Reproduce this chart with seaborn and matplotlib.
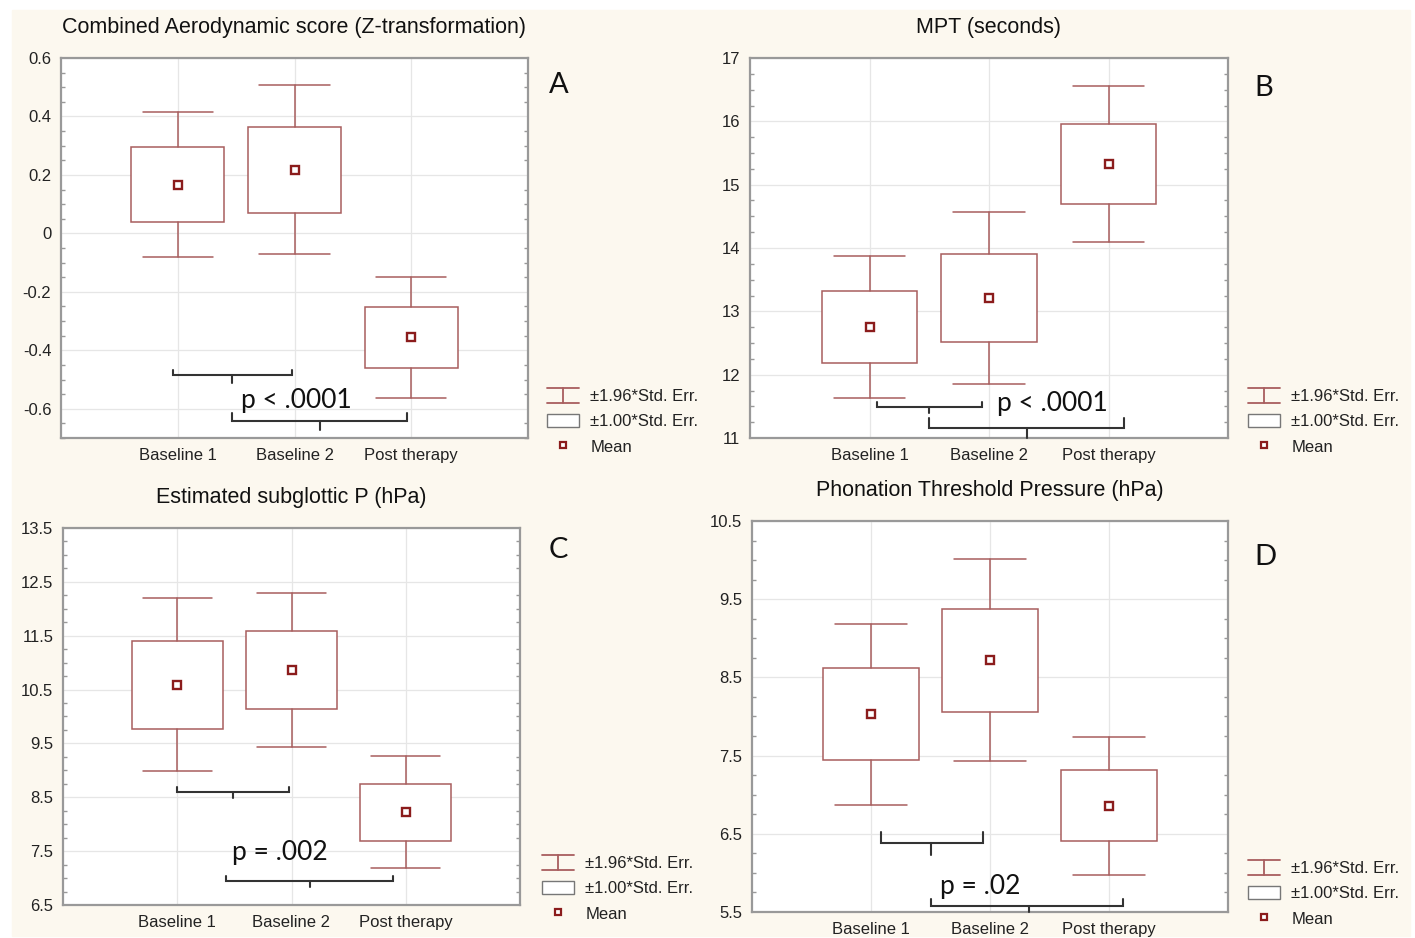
import matplotlib
matplotlib.use("Agg")
import matplotlib.pyplot as plt
import seaborn as sns
from matplotlib.lines import Line2D
from matplotlib.patches import Patch, Rectangle
from matplotlib.legend_handler import HandlerBase
from matplotlib.ticker import AutoMinorLocator

# ---- data (means and standard errors) ----
groups = ['Baseline 1', 'Baseline 2', 'Post therapy']

aero_mean = [0.167, 0.218, -0.356]
aero_se = [0.127, 0.147, 0.105]
mpt_mean = [12.75, 13.21, 15.33]
mpt_se = [0.57, 0.69, 0.63]
psub_mean = [10.59, 10.86, 8.22]
psub_se = [0.82, 0.73, 0.53]
ptp_mean = [8.03, 8.72, 6.86]
ptp_se = [0.59, 0.66, 0.45]

titles = ['Combined Aerodynamic score (Z-transformation)', 'MPT (seconds)',
          'Estimated subglottic P (hPa)', 'Phonation Threshold Pressure (hPa)']
letters = ['A', 'B', 'C', 'D']
p_labels = ['p < .0001', 'p < .0001', 'p = .002', 'p = .02']

aero_ticks = [-0.6, -0.4, -0.2, 0, 0.2, 0.4, 0.6]
mpt_ticks = [11, 12, 13, 14, 15, 16, 17]
psub_ticks = [6.5, 7.5, 8.5, 9.5, 10.5, 11.5, 12.5, 13.5]
ptp_ticks = [5.5, 6.5, 7.5, 8.5, 9.5, 10.5]

# ---- style ----
W, H = 1415, 938
box_col = '#a85e5e'
mean_col = '#8b1c1c'
bg_col = '#fcf8ef'

sns.set_theme(style='whitegrid')
plt.rcParams['font.family'] = ['Liberation Sans', 'DejaVu Sans']
plt.rcParams['axes.unicode_minus'] = False


class WhiskerHandler(HandlerBase):
    def create_artists(self, legend, orig_handle, xdescent, ydescent,
                       width, height, fontsize, trans):
        x0, x1 = -xdescent, -xdescent + width
        y0, y1 = -ydescent - 1, -ydescent + height + 1
        xm = (x0 + x1) / 2
        out = []
        for xs, ys in [([x0, x1], [y0, y0]), ([x0, x1], [y1, y1]), ([xm, xm], [y0, y1])]:
            ln = Line2D(xs, ys, color=orig_handle.get_color(), lw=1.3)
            ln.set_transform(trans)
            out.append(ln)
        return out


def px_rect(l, t, r, b):
    return [l / W, 1 - b / H, (r - l) / W, (b - t) / H]


fig = plt.figure(figsize=(W / 100, H / 100), dpi=100, facecolor='white')
fig.patches.append(Rectangle((12 / W, 2 / H), 1398 / W, 926 / H,
                             transform=fig.transFigure, color=bg_col, zorder=-10))

panels = [
    dict(mean=aero_mean, se=aero_se, ticks=aero_ticks, ylim=(-0.7, 0.6),
         rect=(61, 58, 528, 438), letter_xy=(559, 85), leg_xy=(547, 389),
         brackets=[(-0.04, 0.98, 0.465, -0.485, -0.467, -0.512),
                   (0.465, 1.96, 1.22, -0.642, -0.614, -0.673)],
         p_xy=(1.02, -0.573)),
    dict(mean=mpt_mean, se=mpt_se, ticks=mpt_ticks, ylim=(11, 17),
         rect=(750, 58, 1228, 438), letter_xy=(1264, 88), leg_xy=(1248, 389),
         brackets=[(0.06, 0.94, 0.50, 11.49, 11.57, 11.39),
                   (0.50, 2.13, 1.32, 11.16, 11.32, 11.0)],
         p_xy=(1.53, 11.55)),
    dict(mean=psub_mean, se=psub_se, ticks=psub_ticks, ylim=(6.5, 13.5),
         rect=(63, 528, 520, 905), letter_xy=(558, 550), leg_xy=(542, 856),
         brackets=[(0.0, 0.98, 0.49, 8.60, 8.69, 8.49),
                   (0.43, 1.89, 1.16, 6.95, 7.04, 6.83)],
         p_xy=(0.90, 7.48)),
    dict(mean=ptp_mean, se=ptp_se, ticks=ptp_ticks, ylim=(5.5, 10.5),
         rect=(752, 521, 1228, 912), letter_xy=(1265, 557), leg_xy=(1248, 861),
         brackets=[(0.08, 0.94, 0.50, 6.38, 6.52, 6.23),
                   (0.50, 2.12, 1.33, 5.58, 5.66, 5.5)],
         p_xy=(0.92, 5.82)),
]

for i, p in enumerate(panels):
    ax = fig.add_axes(px_rect(*p['rect']))
    ax.set_facecolor('white')

    # boxes = mean +/- 1 SE, whiskers = mean +/- 1.96 SE
    stats = []
    for g, m, s in zip(groups, p['mean'], p['se']):
        stats.append(dict(label=g, med=m, q1=m - s, q3=m + s,
                          whislo=m - 1.96 * s, whishi=m + 1.96 * s))
    ax.bxp(stats, positions=[0, 1, 2], widths=0.8, capwidths=0.6,
           patch_artist=True, showfliers=False, manage_ticks=False,
           boxprops=dict(facecolor='white', edgecolor=box_col, linewidth=1.1),
           whiskerprops=dict(color=box_col, linewidth=1.1),
           capprops=dict(color=box_col, linewidth=1.1),
           medianprops=dict(linewidth=0), zorder=3)

    sns.pointplot(x=groups, y=p['mean'], order=groups, linestyle='none',
                  marker='s', markersize=5.5, markerfacecolor='white',
                  markeredgecolor=mean_col, markeredgewidth=1.7,
                  color=mean_col, errorbar=None, ax=ax, zorder=5)

    ax.set_xlim(-1, 3)
    ax.set_ylim(*p['ylim'])
    ax.set_xticks([0, 1, 2])
    ax.set_xticklabels(groups)
    ax.set_yticks(p['ticks'])
    ax.set_yticklabels([f'{v:g}' for v in p['ticks']])
    ax.set_xlabel('')
    ax.set_ylabel('')
    ax.grid(True, axis='both', color='#e6e6e6', linewidth=0.9)
    ax.set_axisbelow(True)
    ax.yaxis.set_minor_locator(AutoMinorLocator(4))
    ax.tick_params(axis='both', which='major', labelsize=12, labelcolor='#222222',
                   length=0, pad=7)
    ax.tick_params(axis='y', which='minor', direction='in', length=3,
                   color='#999999', left=True, right=True)
    for sp in ax.spines.values():
        sp.set_color('#999999')
        sp.set_linewidth(1.6)

    ax.set_title(titles[i], fontsize=15.5, color='#111111', pad=18)

    # significance brackets
    for x0, x1, xm, y, ye, ym in p['brackets']:
        ax.plot([x0, x0, x1, x1], [ye, y, y, ye], color='#333333', lw=1.5,
                solid_joinstyle='miter', zorder=6, clip_on=False)
        ax.plot([xm, xm], [y, ym], color='#333333', lw=1.5, zorder=6, clip_on=False)
    ax.text(p['p_xy'][0], p['p_xy'][1], p_labels[i], ha='center', va='center',
            fontsize=19, family='Lato', color='#111111', zorder=7)

    lx, ly = p['letter_xy']
    fig.text(lx / W, 1 - ly / H, letters[i], ha='center', va='center',
             fontsize=21, family='Lato', color='#111111')

    handles = [Line2D([], [], color=box_col),
               Patch(facecolor='white', edgecolor='#777777', linewidth=1.0),
               Line2D([], [], ls='none', marker='s', markersize=5,
                      markerfacecolor='white', markeredgecolor=mean_col,
                      markeredgewidth=1.6)]
    labels = ['±1.96*Std. Err.', '±1.00*Std. Err.', 'Mean']
    gx, gy = p['leg_xy']
    fig.legend(handles, labels, loc='upper left',
               bbox_to_anchor=(gx / W, 1 - gy / H), bbox_transform=fig.transFigure,
               frameon=False, fontsize=12, borderpad=0, borderaxespad=0,
               handlelength=1.9, handleheight=0.8, handletextpad=0.7,
               labelspacing=0.6, labelcolor='#222222',
               handler_map={handles[0]: WhiskerHandler()})

fig.savefig('out.png', dpi=100, facecolor='white')
